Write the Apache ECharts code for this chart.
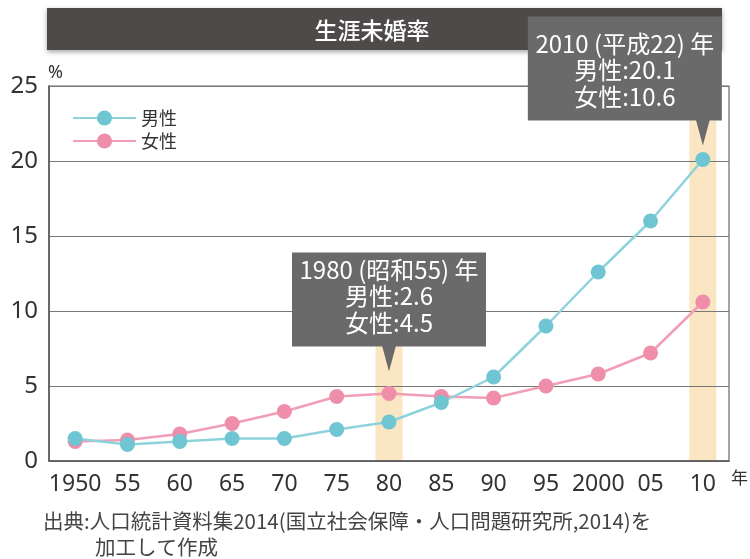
<!DOCTYPE html>
<html>
<head>
<meta charset="utf-8">
<title>生涯未婚率</title>
<script src="https://cdn.jsdelivr.net/npm/echarts@6/dist/echarts.min.js"></script>
<style>
    body {
        margin: 0px;
        padding: 0px;
        background: #fff;
    }
    #main {
        width: 750px;
        height: 559px;
    }
</style>
</head>
<body>
<div id="main"></div>
<script type="text/javascript">
    var years = ['1950', '55', '60', '65', '70', '75', '80', '85', '90', '95', '2000', '05', '10'];
    var male = [1.5, 1.1, 1.3, 1.5, 1.5, 2.1, 2.6, 3.9, 5.6, 9.0, 12.6, 16.0, 20.1];
    var female = [1.3, 1.4, 1.8, 2.5, 3.3, 4.3, 4.5, 4.3, 4.2, 5.0, 5.8, 7.2, 10.6];
    var noteYears = ['80', '10'];
    var noteTitles = ['1980 (昭和55) 年', '2010 (平成22) 年'];

    var numFont = "'Noto Sans', 'Noto Sans CJK JP', sans-serif";
    var jpFont = "'Noto Sans CJK JP', sans-serif";
    var maleLine = '#8ed3dc', maleDot = '#6fc6d2';
    var femaleLine = '#f29db6', femaleDot = '#ef8eab';

    var chart = echarts.init(document.getElementById('main'));

    var option = {
        animation: false,
        backgroundColor: '#fff',
        grid: {
            left: 49, right: 21, top: 86, bottom: 98,
            show: true, borderColor: '#666', borderWidth: 1.2
        },
        legend: {
            data: ['男性', '女性'],
            orient: 'vertical',
            left: 67, top: 104,
            itemWidth: 63, itemHeight: 19, itemGap: 5,
            textStyle: { fontFamily: jpFont, fontSize: 18, color: '#333' }
        },
        xAxis: {
            type: 'category',
            data: years,
            boundaryGap: true,
            axisLine: { lineStyle: { color: '#555', width: 1.5 } },
            axisTick: { inside: true, length: 6, interval: 0, lineStyle: { color: '#555' } },
            axisLabel: { interval: 0, margin: 12, fontFamily: numFont, fontSize: 23, color: '#333' }
        },
        yAxis: {
            type: 'value',
            min: 0, max: 25, interval: 5,
            axisLine: { show: true, lineStyle: { color: '#555', width: 1.5 } },
            axisTick: { show: false },
            splitLine: { lineStyle: { color: '#777', width: 1 } },
            axisLabel: { margin: 11, fontFamily: numFont, fontSize: 24, color: '#333' }
        },
        series: [
            {
                name: '女性', type: 'line', data: female,
                symbol: 'circle', symbolSize: 15, z: 3,
                lineStyle: { color: femaleLine, width: 2.5 },
                itemStyle: { color: femaleDot }
            },
            {
                name: '男性', type: 'line', data: male,
                symbol: 'circle', symbolSize: 15, z: 3,
                lineStyle: { color: maleLine, width: 2.5 },
                itemStyle: { color: maleDot }
            }
        ]
    };
    chart.setOption(option);

    // 注記ボックス（位置は軸から計算）
    var noteStyle = {
        '80': { gap: 22, shift: 0, height: 94 },
        '10': { gap: 14, shift: -78, height: 104 }
    };
    var bottomY = chart.convertToPixel({ yAxisIndex: 0 }, 0);
    var graphics = [];

    // タイトルバー
    graphics.push({
        type: 'rect', z: 50,
        shape: { x: 47, y: 8, width: 675, height: 42 },
        style: { fill: '#4e4a4a', shadowBlur: 5, shadowOffsetY: 2, shadowColor: 'rgba(0,0,0,0.35)' }
    });
    graphics.push({
        type: 'text', z: 51, x: 372, y: 30,
        style: {
            text: '生涯未婚率', fill: '#fff', font: '500 23px ' + jpFont,
            textAlign: 'center', textVerticalAlign: 'middle'
        }
    });

    for (var i = 0; i < noteYears.length; i++) {
        var idx = years.indexOf(noteYears[i]);
        var st = noteStyle[noteYears[i]];
        var peak = Math.max(male[idx], female[idx]);
        var pt = chart.convertToPixel({ xAxisIndex: 0, yAxisIndex: 0 }, [noteYears[i], peak]);
        var tipX = pt[0], tipY = pt[1] - st.gap;
        var boxBottom = tipY - 25;
        var cx = tipX + st.shift;

        // 強調帯
        graphics.push({
            type: 'rect', z: -1,
            shape: { x: tipX - 13.5, y: boxBottom, width: 27, height: bottomY - boxBottom },
            style: { fill: '#fbe6c3' }
        });
        graphics.push({
            type: 'rect', z: 60,
            shape: { x: cx - 97, y: boxBottom - st.height, width: 194, height: st.height },
            style: { fill: '#6a6a6a' }
        });
        graphics.push({
            type: 'polygon', z: 60,
            shape: { points: [[tipX - 7, boxBottom - 1], [tipX + 7, boxBottom - 1], [tipX, tipY]] },
            style: { fill: '#6a6a6a' }
        });
        var lines = [noteTitles[i], '男性:' + male[idx], '女性:' + female[idx]];
        for (var j = 0; j < lines.length; j++) {
            graphics.push({
                type: 'text', z: 61, x: cx, y: boxBottom - 24 - (2 - j) * 26.5,
                style: {
                    text: lines[j], fill: '#fff', font: '24px ' + jpFont,
                    textAlign: 'center', textVerticalAlign: 'middle'
                }
            });
        }
    }

    // 単位・出典
    graphics.push({
        type: 'text', x: 48, y: 73,
        style: { text: '%', fill: '#333', font: '18px ' + numFont, textVerticalAlign: 'middle' }
    });
    graphics.push({
        type: 'text', x: 731, y: 478,
        style: { text: '年', fill: '#333', font: '17px ' + jpFont, textVerticalAlign: 'middle' }
    });
    graphics.push({
        type: 'text', x: 43, y: 521,
        style: { text: '出典:人口統計資料集2014(国立社会保障・人口問題研究所,2014)を', fill: '#444', font: '20.5px ' + jpFont, textVerticalAlign: 'middle' }
    });
    graphics.push({
        type: 'text', x: 95, y: 547,
        style: { text: '加工して作成', fill: '#444', font: '20.5px ' + jpFont, textVerticalAlign: 'middle' }
    });

    chart.setOption({ graphic: graphics });
</script>
</body>
</html>
